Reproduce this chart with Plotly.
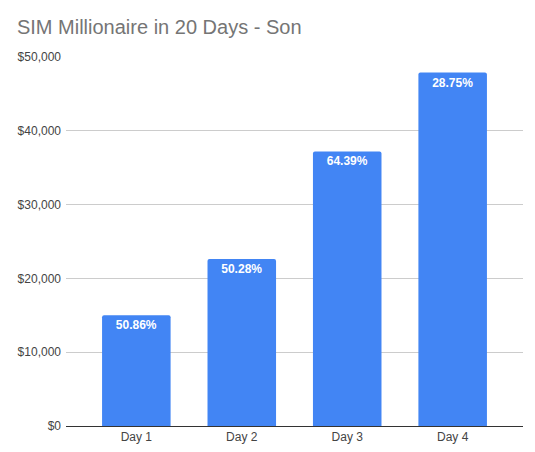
import plotly.graph_objects as go

days = ["Day 1", "Day 2", "Day 3", "Day 4"]
values = [15000, 22630, 37200, 47900]
labels = ["50.86%", "50.28%", "64.39%", "28.75%"]
y_ticks = [0, 10000, 20000, 30000, 40000, 50000]
y_tick_text = ["$0", "$10,000", "$20,000", "$30,000", "$40,000", "$50,000"]

FONT = "Arial, Liberation Sans, sans-serif"

fig = go.Figure(go.Bar(
    x=days, y=values, text=labels,
    textposition="inside", insidetextanchor="end",
    textfont=dict(color="white", size=12, family=FONT, weight="bold"),
    marker=dict(color="#4285F4", cornerradius=2, line=dict(width=0)),
    width=0.65,
    hoverinfo="skip",
))

# page body has an 8px margin, so the figure is sized/offset to compensate
fig.update_layout(
    width=527, height=444,
    margin=dict(l=58, r=12, t=49, b=26, autoexpand=False),
    paper_bgcolor="white", plot_bgcolor="white",
    title=dict(text="SIM Millionaire in 20 Days - Son", x=0.017, xanchor="left",
               y=0.958, yanchor="middle",
               font=dict(size=20, color="#757575", family=FONT)),
    showlegend=False,
    xaxis=dict(range=[-0.667, 3.667], showgrid=False, showline=True, linecolor="#333333",
               linewidth=1, ticks="", automargin=False,
               tickfont=dict(size=12, color="#444444", family=FONT),
               fixedrange=True),
    yaxis=dict(range=[0, 50000], tickvals=y_ticks, ticktext=y_tick_text,
               showgrid=True, gridcolor="#cccccc", zeroline=False, ticks="",
               ticklabelstandoff=4, automargin=False,
               tickfont=dict(size=12, color="#444444", family=FONT),
               fixedrange=True),
)

fig.write_html("out.html")
